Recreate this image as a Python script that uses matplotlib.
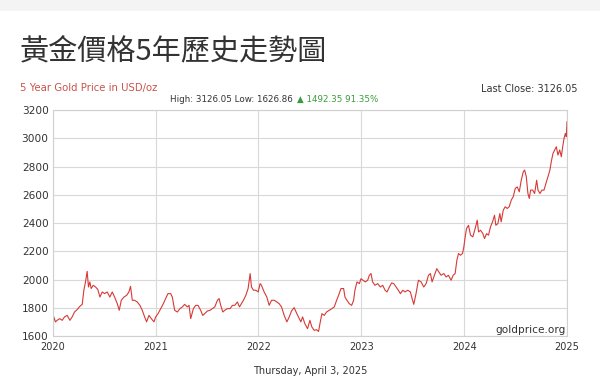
import matplotlib.pyplot as plt
from matplotlib.patches import Rectangle

# chart time in years since the "2020" label
t = [0.000, 0.010, 0.026, 0.042, 0.068, 0.091, 0.114, 0.140, 0.166, 0.188,
     0.211, 0.237, 0.263, 0.286, 0.302, 0.318, 0.334, 0.347, 0.360, 0.373,
     0.393, 0.416, 0.438, 0.458, 0.481, 0.503, 0.529, 0.555, 0.578, 0.601,
     0.627, 0.646, 0.666, 0.692, 0.718, 0.740, 0.756, 0.773, 0.795, 0.821,
     0.847, 0.870, 0.893, 0.912, 0.935, 0.958, 0.984, 1.000, 1.023, 1.049,
     1.075, 1.097, 1.120, 1.146, 1.162, 1.185, 1.211, 1.237, 1.260, 1.282,
     1.308, 1.325, 1.341, 1.367, 1.390, 1.412, 1.438, 1.458, 1.477, 1.503,
     1.529, 1.552, 1.575, 1.601, 1.617, 1.633, 1.653, 1.672, 1.698, 1.724,
     1.747, 1.769, 1.795, 1.815, 1.834, 1.854, 1.877, 1.899, 1.919, 1.932,
     1.951, 1.974, 1.997, 2.016, 2.029, 2.055, 2.081, 2.104, 2.127, 2.153,
     2.179, 2.201, 2.224, 2.250, 2.276, 2.299, 2.321, 2.347, 2.373, 2.396,
     2.412, 2.429, 2.451, 2.477, 2.500, 2.519, 2.542, 2.565, 2.584, 2.601,
     2.617, 2.640, 2.662, 2.688, 2.714, 2.737, 2.760, 2.779, 2.802, 2.828,
     2.841, 2.860, 2.883, 2.906, 2.925, 2.938, 2.958, 2.981, 2.997, 3.016,
     3.039, 3.062, 3.078, 3.094, 3.110, 3.133, 3.159, 3.185, 3.208, 3.231,
     3.250, 3.273, 3.295, 3.315, 3.338, 3.360, 3.380, 3.403, 3.425, 3.451,
     3.477, 3.494, 3.510, 3.532, 3.555, 3.581, 3.607, 3.630, 3.653, 3.672,
     3.688, 3.711, 3.734, 3.753, 3.776, 3.802, 3.825, 3.847, 3.873, 3.893,
     3.912, 3.929, 3.945, 3.964, 3.984, 3.997, 4.010, 4.023, 4.042, 4.062,
     4.084, 4.107, 4.127, 4.140, 4.159, 4.182, 4.198, 4.218, 4.237, 4.256,
     4.276, 4.295, 4.308, 4.328, 4.347, 4.360, 4.380, 4.399, 4.419, 4.438,
     4.458, 4.477, 4.497, 4.516, 4.536, 4.555, 4.575, 4.588, 4.604, 4.620,
     4.633, 4.646, 4.666, 4.685, 4.705, 4.718, 4.737, 4.756, 4.776, 4.795,
     4.815, 4.834, 4.847, 4.864, 4.880, 4.896, 4.912, 4.929, 4.945, 4.958,
     4.971, 4.984, 4.993, 5.000]

price = [1635, 1735, 1700, 1711, 1723, 1711, 1735, 1746, 1711, 1735,
         1770, 1787, 1810, 1824, 1924, 1983, 2058, 1947, 1983, 1936,
         1959, 1947, 1929, 1876, 1912, 1900, 1912, 1876, 1912, 1876,
         1829, 1782, 1853, 1876, 1888, 1912, 1952, 1853, 1853, 1841,
         1817, 1782, 1735, 1700, 1746, 1723, 1700, 1735, 1758, 1794,
         1829, 1865, 1900, 1900, 1876, 1782, 1770, 1794, 1806, 1824,
         1806, 1817, 1723, 1794, 1817, 1817, 1782, 1746, 1758, 1777,
         1782, 1794, 1806, 1853, 1865, 1817, 1770, 1782, 1794, 1794,
         1817, 1817, 1841, 1806, 1829, 1853, 1888, 1936, 2042, 1947,
         1924, 1924, 1912, 1971, 1959, 1912, 1876, 1817, 1853, 1853,
         1841, 1829, 1806, 1746, 1700, 1735, 1777, 1801, 1758, 1723,
         1700, 1735, 1687, 1652, 1711, 1664, 1640, 1645, 1632, 1700,
         1758, 1746, 1770, 1782, 1794, 1806, 1853, 1888, 1936, 1936,
         1876, 1853, 1829, 1817, 1853, 1924, 1983, 1971, 2006, 1995,
         1983, 1995, 2030, 2042, 1983, 1959, 1971, 1947, 1959, 1924,
         1912, 1947, 1976, 1971, 1947, 1924, 1900, 1924, 1912, 1924,
         1912, 1865, 1824, 1900, 1995, 1983, 1947, 1971, 2030, 2042,
         1983, 2030, 2077, 2054, 2030, 2042, 2018, 2030, 1995, 2030,
         2042, 2136, 2184, 2172, 2184, 2231, 2302, 2361, 2384, 2314,
         2302, 2361, 2420, 2337, 2349, 2325, 2290, 2325, 2314, 2373,
         2408, 2455, 2384, 2396, 2467, 2408, 2491, 2515, 2503, 2515,
         2562, 2586, 2645, 2656, 2621, 2703, 2763, 2775, 2728, 2609,
         2574, 2633, 2633, 2609, 2703, 2633, 2609, 2633, 2633, 2680,
         2728, 2775, 2834, 2893, 2917, 2940, 2881, 2917, 2869, 2940,
         2999, 3034, 3011, 3117]

year_labels = ['2020', '2021', '2022', '2023', '2024', '2025']
price_ticks = [1600, 1800, 2000, 2200, 2400, 2600, 2800, 3000, 3200]

x = [2020 + v for v in t]

fig = plt.figure(figsize=(6, 3.82), dpi=100)
fig.patch.set_facecolor('white')

# light band at the very top of the screenshot
fig.patches.append(Rectangle((0, 0.972), 1, 0.028, transform=fig.transFigure,
                             facecolor='#f4f4f4', edgecolor='none'))

fig.text(0.033, 0.865, '黃金價格5年歷史走勢圖', fontsize=21, color='#333333',
         family=['Noto Sans CJK TC', 'DejaVu Sans'], va='center')

fig.text(0.033, 0.770, '5 Year Gold Price in USD/oz', fontsize=7.3,
         color='#c9524a', va='center')
fig.text(0.963, 0.768, 'Last Close: 3126.05', fontsize=7.0,
         color='#333333', ha='right', va='center')

t1 = fig.text(0.284, 0.739, 'High: 3126.05 Low: 1626.86', fontsize=6.3,
              color='#333333', va='center')
fig.canvas.draw()
bb = t1.get_window_extent().transformed(fig.transFigure.inverted())
fig.text(bb.x1 + 0.006, 0.739, '▲ 1492.35 91.35%', fontsize=6.3,
         color='#3c9a3c', va='center')

ax = fig.add_axes([0.088, 0.1204, 0.857, 0.5916])
ax.plot(x, price, color='#d63a35', linewidth=0.8)

ax.set_xlim(2020, 2025)
ax.set_ylim(1600, 3200)
ax.set_xticks([int(y) for y in year_labels])
ax.set_xticklabels(year_labels)
ax.set_yticks(price_ticks)
ax.grid(True, color='#d9d9d9', linewidth=0.8)
ax.set_axisbelow(True)
for s in ax.spines.values():
    s.set_color('#d0d0d0')
    s.set_linewidth(0.8)
ax.tick_params(length=0, labelsize=7, colors='#333333', pad=4)
ax.tick_params(axis='y', labelsize=7.6, pad=3)

ax.text(0.997, 0.005, 'goldprice.org', transform=ax.transAxes, fontsize=7.6,
        color='#333333', ha='right', va='bottom')

fig.text(0.517, 0.028, 'Thursday, April 3, 2025', fontsize=7.0,
         color='#333333', ha='center', va='center')

fig.savefig('out.png', dpi=100)
